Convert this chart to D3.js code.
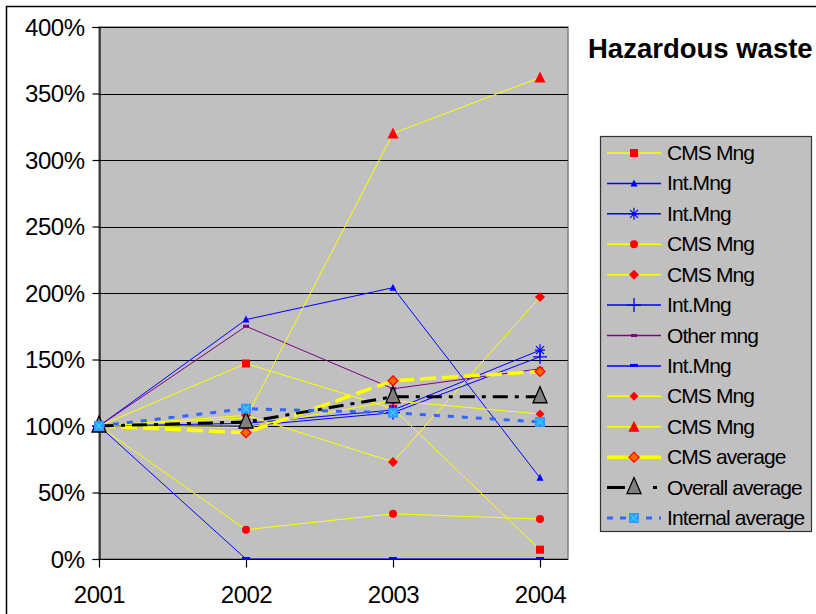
<!DOCTYPE html>
<html>
<head>
<meta charset="utf-8">
<script src="https://cdn.jsdelivr.net/npm/d3@7"></script>
<style>
  body { margin: 0; background: #fff; }
  text { font-family: "Liberation Sans", Arial, sans-serif; }
</style>
</head>
<body>
<svg id="chart" width="816" height="614"></svg>
<script>
// data
var years = ["2001", "2002", "2003", "2004"];
var yTicks = [0, 50, 100, 150, 200, 250, 300, 350, 400];

var seriesNames = ["CMS Mng", "Int.Mng", "Int.Mng", "CMS Mng", "CMS Mng", "Int.Mng", "Other mng",
    "Int.Mng", "CMS Mng", "CMS Mng", "CMS average", "Overall average", "Internal average"];

var cmsSquare   = [100, 147, 113, 7];
var intTriangle = [100, 180, 204, 61];
var intStar     = [100, 102, 112, 157];
var cmsCircle   = [100, 22, 34, 30];
var cmsDiamond  = [100, 108, 73, 197];
var intPlus     = [100, 100, 110, 152];
var otherMng    = [100, 175, 128, 143];
var intDash     = [100, 0, 0, 0];
var cmsDiamond2 = [100, 99, 119, 109];
var cmsTriangle = [100, 106, 320, 362];
var cmsAverage  = [100, 95, 134, 141];
var overallAvg  = [100, 103, 122, 122];
var internalAvg = [100, 113, 110, 103];

var seriesValues = [cmsSquare, intTriangle, intStar, cmsCircle, cmsDiamond, intPlus, otherMng,
    intDash, cmsDiamond2, cmsTriangle, cmsAverage, overallAvg, internalAvg];

// styles for each series (line + marker)
var styles = [
    {color: "#ffff00", width: 1, dash: null, marker: "square"},
    {color: "#0000ff", width: 1, dash: null, marker: "smalltri"},
    {color: "#0000ff", width: 1, dash: null, marker: "star"},
    {color: "#ffff00", width: 1, dash: null, marker: "circle"},
    {color: "#ffff00", width: 1, dash: null, marker: "diamond"},
    {color: "#0000ff", width: 1, dash: null, marker: "plus"},
    {color: "#800080", width: 1, dash: null, marker: "pdash"},
    {color: "#0000ff", width: 1, dash: null, marker: "bdash"},
    {color: "#ffff00", width: 1, dash: null, marker: "diamond2"},
    {color: "#ffff00", width: 1, dash: null, marker: "triangle"},
    {color: "#ffff00", width: 3.5, dash: "16,6", marker: "odiamond"},
    {color: "#000000", width: 3, dash: "15,7,4,7", marker: "gtri"},
    {color: "#3366ff", width: 3, dash: "6,8", marker: "isquare"}
];

var svg = d3.select("#chart");

var plot = {left: 99, right: 568, top: 27, bottom: 559};

var x = d3.scalePoint().domain(years).range([99, 540]);
var y = d3.scaleLinear().domain([0, 400]).range([plot.bottom, plot.top]);

// outer frame
svg.append("rect")
    .attr("x", 6.5).attr("y", 6.5)
    .attr("width", 900).attr("height", 700)
    .style("fill", "none").style("stroke", "#000").style("stroke-width", 1.5);

// plot area
svg.append("rect")
    .attr("x", plot.left).attr("y", plot.top)
    .attr("width", plot.right - plot.left).attr("height", plot.bottom - plot.top)
    .style("fill", "#c0c0c0").style("stroke", "#808080").style("stroke-width", 1.5);

// gridlines
svg.append("g").selectAll("line")
    .data(yTicks.filter(function(d) { return d > 0; }))
    .enter().append("line")
    .attr("x1", plot.left).attr("x2", plot.right)
    .attr("y1", function(d) { return Math.round(y(d)) + 0.5; })
    .attr("y2", function(d) { return Math.round(y(d)) + 0.5; })
    .style("stroke", "#000").style("stroke-width", 1.2);

// y axis
var yAxis = d3.axisLeft(y).tickValues(yTicks).tickSize(7).tickPadding(8)
    .tickFormat(function(d) { return d + "%"; });
var gy = svg.append("g").attr("transform", "translate(" + (plot.left + 0.5) + ",0)").call(yAxis);
gy.select(".domain").style("stroke", "#000").style("stroke-width", 1.2);
gy.selectAll(".tick line").style("stroke", "#000").style("stroke-width", 1.2);
gy.selectAll(".tick text")
    .attr("font-size", "24px").attr("fill", "#000")
    .attr("font-family", "'Liberation Sans', Arial, sans-serif")
    .attr("letter-spacing", "-0.5").attr("dy", "0.35em");

// x axis
var xAxis = d3.axisBottom(x).tickSize(8).tickPadding(18);
var gx = svg.append("g").attr("transform", "translate(0," + (plot.bottom + 0.5) + ")").call(xAxis);
gx.select(".domain").attr("d", "M" + plot.left + ",0H" + plot.right)
    .style("stroke", "#000").style("stroke-width", 1.2);
gx.selectAll(".tick line").style("stroke", "#000").style("stroke-width", 1.2);
gx.selectAll(".tick text")
    .attr("font-size", "24px").attr("fill", "#000")
    .attr("font-family", "'Liberation Sans', Arial, sans-serif")
    .attr("letter-spacing", "-0.5").attr("dy", "0.71em");

// marker drawing
function drawMarker(g, type, cx, cy) {
    var m = g.append("g").attr("transform", "translate(" + cx + "," + cy + ")");
    switch (type) {
        case "square":
            m.append("rect").attr("x", -4).attr("y", -4).attr("width", 8).attr("height", 8).style("fill", "#ff0000");
            break;
        case "circle":
            m.append("circle").attr("r", 4).style("fill", "#ff0000");
            break;
        case "diamond":
            m.append("path").attr("d", "M0,-5L5,0L0,5L-5,0Z").style("fill", "#ff0000");
            break;
        case "diamond2":
            m.append("path").attr("d", "M0,-4.5L4.5,0L0,4.5L-4.5,0Z").style("fill", "#ff0000");
            break;
        case "triangle":
            m.append("path").attr("d", "M0,-6L5.5,5L-5.5,5Z").style("fill", "#ff0000");
            break;
        case "smalltri":
            m.append("path").attr("d", "M0,-4L3.5,3L-3.5,3Z").style("fill", "#0000ff");
            break;
        case "star":
            m.append("path").attr("d", "M-4,-4L4,4M-4,4L4,-4M0,-6V6M-5,0H5")
                .style("stroke", "#0000ff").style("stroke-width", 1.2).style("fill", "none");
            break;
        case "plus":
            m.append("path").attr("d", "M0,-7V7M-7,0H7")
                .style("stroke", "#0000ff").style("stroke-width", 1.3).style("fill", "none");
            break;
        case "pdash":
            m.append("rect").attr("x", -3).attr("y", -1.5).attr("width", 6).attr("height", 3).style("fill", "#800080");
            break;
        case "bdash":
            m.append("rect").attr("x", -4).attr("y", -2).attr("width", 8).attr("height", 3).style("fill", "#0000ff");
            break;
        case "odiamond":
            m.append("path").attr("d", "M0,-5L5,0L0,5L-5,0Z")
                .style("fill", "#ff6600").style("stroke", "#ff0000").style("stroke-width", 1.2);
            break;
        case "gtri":
            m.append("path").attr("d", "M0,-10L7,6L-7,6Z")
                .style("fill", "#808080").style("stroke", "#000").style("stroke-width", 1.3);
            break;
        case "isquare":
            m.append("rect").attr("x", -5).attr("y", -5).attr("width", 10).attr("height", 10).style("fill", "#3399ff");
            m.append("path").attr("d", "M-3,-3L3,3M-3,3L3,-3")
                .style("stroke", "#33ccff").style("stroke-width", 1.5);
            break;
    }
}

var line = d3.line()
    .x(function(d, i) { return x(years[i]); })
    .y(function(d) { return y(d); });

var gSeries = svg.append("g");
seriesValues.forEach(function(vals, s) {
    var st = styles[s];
    var g = gSeries.append("g");
    g.append("path")
        .attr("d", line(vals))
        .style("fill", "none")
        .style("stroke", st.color)
        .style("stroke-width", st.width)
        .style("stroke-dasharray", st.dash);
    vals.forEach(function(v, i) {
        drawMarker(g, st.marker, x(years[i]), y(v));
    });
});

// title
svg.append("text")
    .attr("x", 588).attr("y", 58)
    .attr("font-size", "27.5px").attr("font-weight", "bold")
    .text("Hazardous waste");

// legend
var legend = svg.append("g");
legend.append("rect")
    .attr("x", 600.5).attr("y", 136.5)
    .attr("width", 211).attr("height", 395)
    .style("fill", "#c0c0c0").style("stroke", "#333").style("stroke-width", 1.2);

var legendY = d3.scaleLinear().domain([0, seriesNames.length - 1]).range([153, 518]);

seriesNames.forEach(function(name, s) {
    var st = styles[s];
    var ly = legendY(s);
    var row = legend.append("g");
    row.append("line")
        .attr("x1", 607).attr("x2", 661)
        .attr("y1", ly).attr("y2", ly)
        .style("stroke", st.color)
        .style("stroke-width", st.width === 1 ? 1.5 : st.width)
        .style("stroke-dasharray", st.dash ? (s === 10 ? "26,7,28" : s === 11 ? "18,28,4" : "6,7") : null);
    drawMarker(row, st.marker, 634, ly);
    row.append("text")
        .attr("x", 667).attr("y", ly + 7)
        .attr("font-size", "21px")
        .attr("letter-spacing", "-0.9")
        .text(name);
});
</script>
</body>
</html>
